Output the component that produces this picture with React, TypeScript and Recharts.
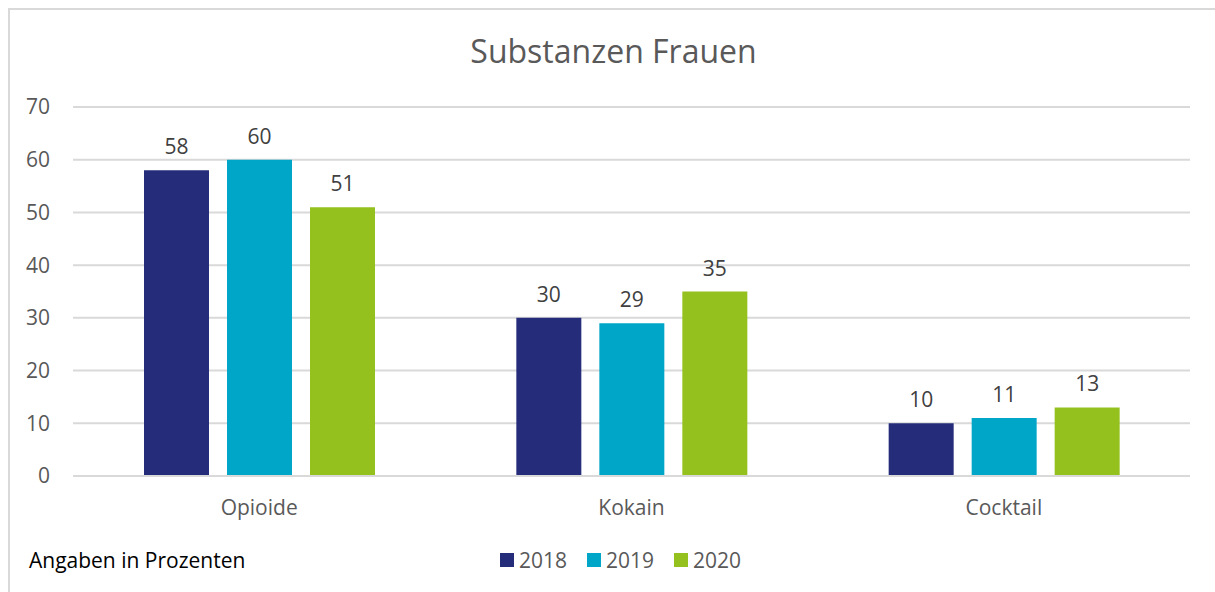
import React from "react"
import { BarChart, Bar, XAxis, YAxis, CartesianGrid, LabelList } from "recharts"

const categories = ["Opioide", "Kokain", "Cocktail"]
const values2018 = [58, 30, 10]
const values2019 = [60, 29, 11]
const values2020 = [51, 35, 13]
const yTicks = [0, 10, 20, 30, 40, 50, 60, 70]

const series = [
  { key: "y2018", name: "2018", color: "#252d7a" },
  { key: "y2019", name: "2019", color: "#00a6c8" },
  { key: "y2020", name: "2020", color: "#95c11f" },
]

const data = categories.map((c, i) => ({
  name: c,
  y2018: values2018[i],
  y2019: values2019[i],
  y2020: values2020[i],
}))

const FONT = "'Open Sans', sans-serif"

function LegendBox() {
  return (
    <div
      style={{
        position: "absolute",
        left: 500,
        top: 545,
        height: 30,
        display: "flex",
        alignItems: "center",
        fontFamily: FONT,
        fontSize: 21,
        color: "#595959",
      }}
    >
      {series.map((s) => (
        <div key={s.key} style={{ display: "flex", alignItems: "center", marginRight: 20 }}>
          <span style={{ width: 14, height: 14, background: s.color, display: "inline-block", marginRight: 5 }} />
          <span>{s.name}</span>
        </div>
      ))}
    </div>
  )
}

export default function App() {
  return (
    <div style={{ position: "fixed", left: 0, top: 0, width: 1215, height: 592, background: "#fff", overflow: "hidden" }}>
      {/* chart frame */}
      <div
        style={{
          position: "absolute",
          left: 8,
          top: 8,
          width: 1220,
          height: 600,
          borderLeft: "2px solid #d9d9d9",
          borderTop: "2px solid #d9d9d9",
        }}
      />
      <div
        style={{
          position: "absolute",
          left: 6,
          top: 30,
          width: 1215,
          textAlign: "center",
          fontFamily: FONT,
          fontSize: 32,
          lineHeight: "42px",
          color: "#595959",
        }}
      >
        Substanzen Frauen
      </div>
      <div
        style={{
          position: "absolute",
          left: 29,
          top: 545,
          fontFamily: FONT,
          fontSize: 21,
          lineHeight: "30px",
          color: "#000",
        }}
      >
        Angaben in Prozenten
      </div>
      <div style={{ position: "absolute", left: 0, top: 0 }}>
        <BarChart
          width={1215}
          height={592}
          data={data}
          margin={{ top: 107, right: 25, left: 0, bottom: 76 }}
          barGap={18}
        >
          <CartesianGrid stroke="#d9d9d9" strokeWidth={2} vertical={false} />
          <XAxis
            dataKey="name"
            axisLine={{ stroke: "#d9d9d9", strokeWidth: 2 }}
            tickLine={false}
            tickMargin={18}
            height={40}
            tick={{ fill: "#595959", fontSize: 21, fontFamily: FONT }}
          />
          <YAxis
            domain={[0, 70]}
            ticks={yTicks}
            width={73}
            axisLine={false}
            tickLine={false}
            tickMargin={17}
            tick={{ fill: "#595959", fontSize: 21, fontFamily: FONT }}
          />
          {series.map((s) => (
            <Bar key={s.key} dataKey={s.key} name={s.name} fill={s.color} barSize={65} isAnimationActive={false}>
              <LabelList
                dataKey={s.key}
                position="top"
                offset={16}
                fill="#404040"
                fontSize={21}
                fontFamily={FONT}
              />
            </Bar>
          ))}
        </BarChart>
      </div>
      <LegendBox />
    </div>
  )
}
